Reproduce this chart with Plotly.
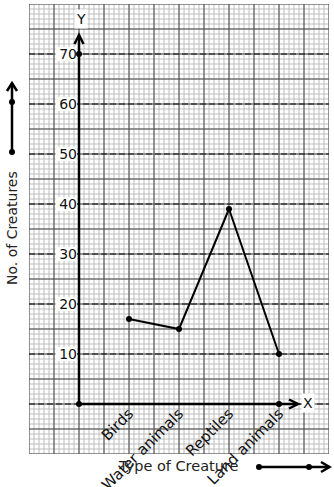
import plotly.graph_objects as go

# ---- data ----
categories = ["Birds", "Water animals", "Reptiles", "Land animals"]
creature_counts = [17, 15, 39, 10]
y_tick_values = [10, 20, 30, 40, 50, 60, 70]
y_tick_labels = ["10", "20", "30", "40", "50", "60", "70"]
x_title = "Type of Creature"
y_title = "No. of Creatures"

# ---- layout constants ----
W, H = 334, 487
ML, MR, MT, MB = 29, 5, 4, 33
X_RANGE = [-1, 5]
Y_RANGE = [-10, 80]
FONT = "DejaVu Sans"

x_pos = list(range(1, len(categories) + 1))


def px_x(px):
    return (px - ML) / (W - ML - MR)


def px_y(py):
    return (H - MB - py) / (H - MT - MB)


shapes = []


def frange(a, b, step):
    out = []
    n = int(round((b - a) / step))
    for i in range(n + 1):
        out.append(round(a + i * step, 6))
    return out


# graph paper: minor grid
for xv in frange(X_RANGE[0], X_RANGE[1], 0.1):
    shapes.append(dict(type="line", xref="x", yref="y", x0=xv, x1=xv, y0=Y_RANGE[0], y1=Y_RANGE[1],
                       line=dict(color="#bdbdbd", width=1), layer="below"))
for yv in frange(Y_RANGE[0], Y_RANGE[1], 1):
    shapes.append(dict(type="line", xref="x", yref="y", x0=X_RANGE[0], x1=X_RANGE[1], y0=yv, y1=yv,
                       line=dict(color="#bdbdbd", width=1), layer="below"))
# major grid
for xv in frange(X_RANGE[0], X_RANGE[1], 0.5):
    shapes.append(dict(type="line", xref="x", yref="y", x0=xv, x1=xv, y0=Y_RANGE[0], y1=Y_RANGE[1],
                       line=dict(color="#4a4a4a", width=1), layer="below"))
for yv in frange(Y_RANGE[0], Y_RANGE[1], 5):
    shapes.append(dict(type="line", xref="x", yref="y", x0=X_RANGE[0], x1=X_RANGE[1], y0=yv, y1=yv,
                       line=dict(color="#4a4a4a", width=1), layer="below"))
# dashed y gridlines
for yv in [0] + y_tick_values:
    shapes.append(dict(type="line", xref="x", yref="y", x0=X_RANGE[0], x1=X_RANGE[1], y0=yv, y1=yv,
                       line=dict(color="#111111", width=1, dash="6px,3px"), layer="below"))
# white label backgrounds behind y tick labels
for yv in y_tick_values:
    shapes.append(dict(type="rect", xref="x", yref="y", x0=-0.47, x1=-0.04, y0=yv - 1.4, y1=yv + 1.4,
                       fillcolor="white", line=dict(width=0), layer="below"))

# axes with arrows
Y_TIP = 73.8
X_TIP = 4.38
AX = dict(color="black", width=2.5)
shapes.append(dict(type="line", xref="x", yref="y", x0=0, x1=0, y0=0, y1=Y_TIP, line=AX))
shapes.append(dict(type="line", xref="x", yref="y", x0=0, x1=X_TIP, y0=0, y1=0, line=AX))
shapes.append(dict(type="path", xref="x", yref="y",
                   path=f"M -0.09,{Y_TIP-1.8} L 0,{Y_TIP} L 0.09,{Y_TIP-1.8}", line=AX))
shapes.append(dict(type="path", xref="x", yref="y",
                   path=f"M {X_TIP-0.18},0.9 L {X_TIP},0 L {X_TIP-0.18},-0.9", line=AX))

# decorative arrows outside plot (paper coords)
lx = px_x(12)
shapes.append(dict(type="line", xref="paper", yref="paper", x0=lx, x1=lx, y0=px_y(152), y1=px_y(83), line=AX))
shapes.append(dict(type="path", xref="paper", yref="paper",
                   path=f"M {px_x(7)},{px_y(91)} L {lx},{px_y(83)} L {px_x(17)},{px_y(91)}", line=AX))
for py in (102, 152):
    shapes.append(dict(type="circle", xref="paper", yref="paper", x0=px_x(9), x1=px_x(15),
                       y0=px_y(py + 3), y1=px_y(py - 3), fillcolor="black", line=dict(color="black", width=0)))
by = 467
shapes.append(dict(type="line", xref="paper", yref="paper", x0=px_x(259), x1=px_x(329.5), y0=px_y(by), y1=px_y(by), line=AX))
shapes.append(dict(type="path", xref="paper", yref="paper",
                   path=f"M {px_x(321)},{px_y(by-5)} L {px_x(329.5)},{px_y(by)} L {px_x(321)},{px_y(by+5)}", line=AX))
for pxx in (259, 309):
    shapes.append(dict(type="circle", xref="paper", yref="paper", x0=px_x(pxx - 3), x1=px_x(pxx + 3),
                       y0=px_y(by + 3), y1=px_y(by - 3), fillcolor="black", line=dict(color="black", width=0)))

fig = go.Figure()

fig.add_trace(go.Scatter(x=[0, 0, len(categories)], y=[0, max(y_tick_values), 0], mode="markers",
                         marker=dict(color="black", size=6), hoverinfo="skip", showlegend=False,
                         cliponaxis=False))
fig.add_trace(go.Scatter(x=x_pos, y=creature_counts, mode="lines+markers",
                         line=dict(color="black", width=2), marker=dict(color="black", size=6),
                         showlegend=False, cliponaxis=False))

annotations = [
    dict(x=0.03, y=77, xref="x", yref="y", text="Y", showarrow=False,
         font=dict(family=FONT, size=14, color="#111"), bgcolor="white"),
    dict(x=4.58, y=0.3, xref="x", yref="y", text="X", showarrow=False,
         font=dict(family=FONT, size=14, color="#111"), bgcolor="white"),
    dict(x=px_x(178.5), y=px_y(466), xref="paper", yref="paper", text=x_title, showarrow=False,
         font=dict(family=FONT, size=14.5, color="#222"), xanchor="center", yanchor="middle"),
    dict(x=px_x(12), y=px_y(228), xref="paper", yref="paper", text=y_title, showarrow=False,
         textangle=-90, font=dict(family=FONT, size=14, color="#222"), xanchor="center", yanchor="middle"),
]

fig.update_layout(
    width=W, height=H,
    margin=dict(l=ML, r=MR, t=MT, b=MB, pad=0),
    paper_bgcolor="white", plot_bgcolor="white",
    shapes=shapes, annotations=annotations,
    font=dict(family=FONT, size=14, color="#222"),
    xaxis=dict(range=X_RANGE, showgrid=False, zeroline=False, showline=False,
               tickvals=x_pos, ticktext=categories, tickangle=-45, ticks="",
               anchor="free", position=(0 - Y_RANGE[0]) / (Y_RANGE[1] - Y_RANGE[0]),
               automargin=False, tickfont=dict(family=FONT, size=15, color="#111"),
               ticklabelstandoff=-3, domain=[0, 1]),
    yaxis=dict(range=Y_RANGE, showgrid=False, zeroline=False, showline=False,
               tickvals=y_tick_values, ticktext=y_tick_labels, ticks="",
               anchor="free", position=(0 - X_RANGE[0]) / (X_RANGE[1] - X_RANGE[0]),
               automargin=False, tickfont=dict(family=FONT, size=14, color="#111"),
               ticklabelstandoff=2, domain=[0, 1]),
    showlegend=False,
)

fig.write_html("out.html")
